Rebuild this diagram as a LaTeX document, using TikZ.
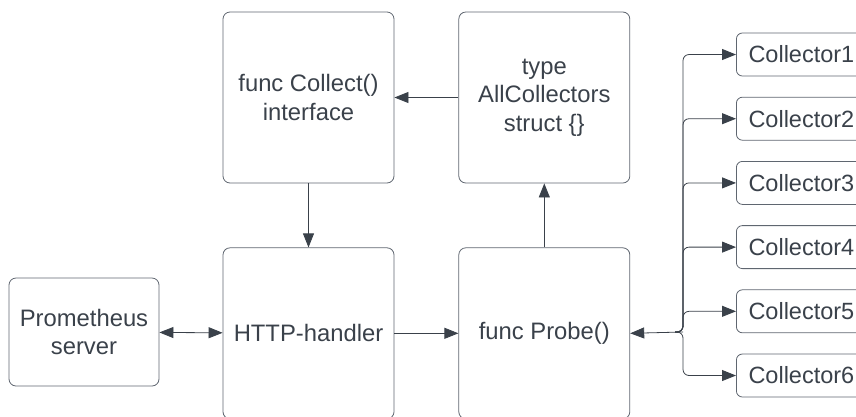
\documentclass[tikz,border=0pt]{standalone}
\usepackage{fontspec}
\setmainfont{Liberation Sans}
\usepackage{xcolor}
\definecolor{ink}{HTML}{3A414A}
\definecolor{edge}{HTML}{5F6670}
\usetikzlibrary{positioning,arrows.meta}
\tikzset{
  blk/.style={rectangle, draw=edge, thick, text=ink, rounded corners=7pt, minimum width=171pt, minimum height=171pt, align=center, font=\fontsize{23.8}{28.5}\selectfont},
  srv/.style={rectangle, draw=edge, thick, text=ink, rounded corners=7pt, minimum width=150pt, minimum height=108pt, align=center, font=\fontsize{23.8}{28.5}\selectfont},
  coll/.style={rectangle, draw=edge, thick, text=ink, rounded corners=6pt, minimum width=130pt, minimum height=43pt, font=\fontsize{23.5}{28}\selectfont},
  line/.style={draw=ink, thick, -{Triangle[length=14pt,width=11pt]}},
}

\begin{document}
\begin{tikzpicture}[x=1pt,y=-1pt]
    \useasboundingbox (0,0) rectangle (856,416);
    \clip (0,0) rectangle (856,416);

    \node[blk] (collect) at (308.5,97.5) {func Collect()\\interface};
    \node[blk,right=64pt of collect] (allc) {type\\AllCollectors\\struct \{\}};
    \node[blk,below=64pt of collect] (http) {HTTP-handler};
    \node[blk,below=64pt of allc] (probe) {func Probe()};
    \node[srv] (prom) at (84,332) {Prometheus\\server};

    \foreach \i in {1,...,6}
      \node[coll,anchor=west] (c\i) at (736,{54.5+64.2*(\i-1)}) {Collector\i};

    \coordinate (jn) at (683,332);

    \path[line] (allc) -- (collect);
    \path[line] (collect) -- (http);
    \path[line] (probe) -- (allc);
    \path[line] (http) -- (probe);
    \path[line,{Triangle[length=14pt,width=11pt]}-{Triangle[length=14pt,width=11pt]}] (prom) -- (http);
    \path[line] (jn) -- (probe.east);
    \foreach \i in {1,...,6}
      \path[line,rounded corners=6pt] ([xshift=-8pt]jn) -- (jn) |- (c\i.west);
\end{tikzpicture}
\end{document}
